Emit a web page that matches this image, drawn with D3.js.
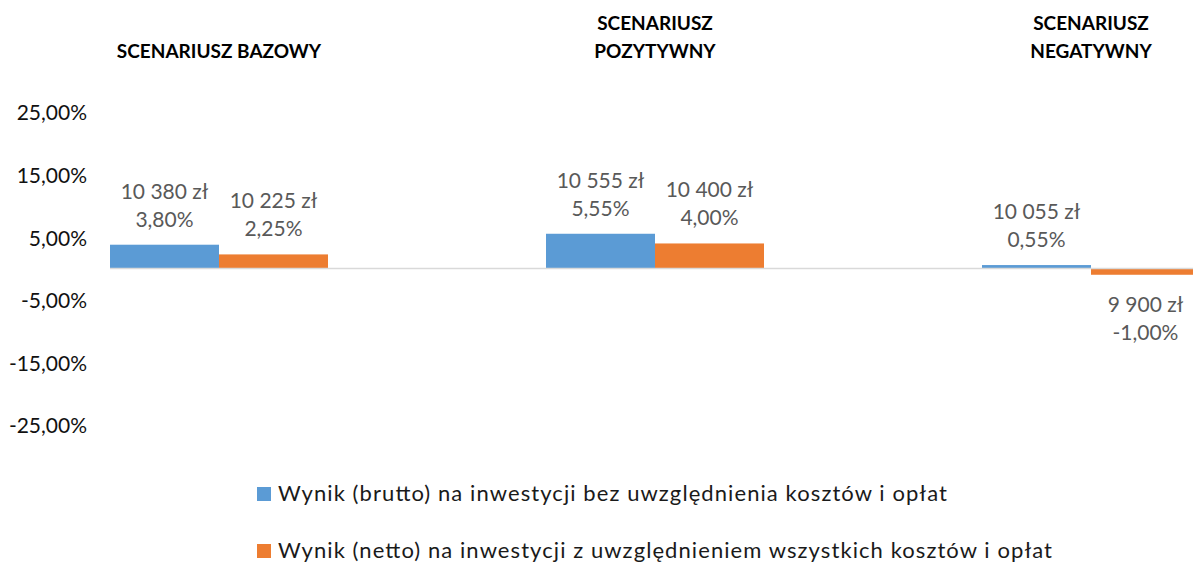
<!DOCTYPE html>
<html><head><meta charset="utf-8">
<script src="https://cdn.jsdelivr.net/npm/d3@7"></script>
<style>body{margin:0;background:#fff}svg{display:block}</style>
</head><body>
<svg id="c" width="1193" height="565"></svg>
<script>
const categories = ["SCENARIUSZ BAZOWY", "SCENARIUSZ POZYTYWNY", "SCENARIUSZ NEGATYWNY"];
const headerLines = [["SCENARIUSZ BAZOWY"], ["SCENARIUSZ", "POZYTYWNY"], ["SCENARIUSZ", "NEGATYWNY"]];
const seriesNames = ["Wynik (brutto) na inwestycji bez uwzględnienia kosztów i opłat",
                     "Wynik (netto) na inwestycji z uwzględnieniem wszystkich kosztów i opłat"];
const bruttoPct = [3.80, 5.55, 0.55];
const nettoPct = [2.25, 4.00, -1.00];
const bruttoAmount = ["10 380 zł", "10 555 zł", "10 055 zł"];
const nettoAmount = ["10 225 zł", "10 400 zł", "9 900 zł"];
const tickValues = [25, 15, 5, -5, -15, -25];
const colors = ["#5B9BD5", "#ED7D31"];

const fmt = v => v.toFixed(2).replace(".", ",") + "%";
const svg = d3.select("#c");
const font = "Lato, 'Open Sans', sans-serif";

const x0 = d3.scaleBand().domain(categories).range([1, 1309]).paddingInner(0).paddingOuter(0);
const x1 = d3.scaleBand().domain([0, 1]).range([x0.bandwidth() / 4, x0.bandwidth() * 3 / 4]);
const y = d3.scaleLinear().domain([-25, 25]).range([425, 112]);

// y axis labels
const yAxis = d3.axisLeft(y).tickValues(tickValues).tickFormat(fmt).tickSize(0).tickPadding(0);
const ya = svg.append("g").attr("transform", "translate(87,0)").call(yAxis);
ya.select(".domain").remove();
ya.selectAll("text").attr("font-family", font).attr("font-size", 21).attr("fill", "#111").attr("dy", "0.38em");

// bars
const data = [];
categories.forEach((c, i) => {
  data.push({c, s: 0, v: bruttoPct[i], amt: bruttoAmount[i]});
  data.push({c, s: 1, v: nettoPct[i], amt: nettoAmount[i]});
});
const g = svg.append("g");
g.selectAll("rect").data(data).join("rect")
  .attr("x", d => x0(d.c) + x1(d.s))
  .attr("width", x1.bandwidth())
  .attr("y", d => y(Math.max(0, d.v)))
  .attr("height", d => Math.abs(y(d.v) - y(0)))
  .attr("fill", d => colors[d.s]);

// zero line
svg.append("line").attr("x1", x0(categories[0]) + x1(0)).attr("x2", 1309)
  .attr("y1", y(0)).attr("y2", y(0)).attr("stroke", "#D9D9D9").attr("stroke-width", 1.5);

// data labels
const lab = svg.append("g").attr("font-family", font).attr("font-size", 21).attr("fill", "#595959").attr("text-anchor", "middle");
data.forEach(d => {
  const cx = x0(d.c) + x1(d.s) + x1.bandwidth() / 2;
  let b2, b1;
  if (d.v >= 0) { b2 = y(d.v) - 18; b1 = b2 - 28; }
  else { b1 = y(d.v) + 37; b2 = b1 + 28; }
  lab.append("text").attr("x", cx).attr("y", b1).text(d.amt);
  lab.append("text").attr("x", cx).attr("y", b2).text(fmt(d.v));
});

// headers
const hd = svg.append("g").attr("font-family", font).attr("font-weight", "bold").attr("font-size", 19).attr("fill", "#000").attr("text-anchor", "middle");
categories.forEach((c, i) => {
  const cx = x0(c) + x0.bandwidth() / 2;
  const lines = headerLines[i];
  lines.forEach((t, j) => {
    hd.append("text").attr("x", cx).attr("y", 58 - (lines.length - 1 - j) * 28).text(t);
  });
});

// legend
const legendWidths = [669, 774];
const lg = svg.append("g").attr("font-family", font).attr("font-size", 22).attr("fill", "#1a1a1a");
seriesNames.forEach((s, i) => {
  const yy = 501 + i * 57;
  lg.append("rect").attr("x", 257).attr("y", yy - 14).attr("width", 14).attr("height", 14).attr("fill", colors[i]);
  lg.append("text").attr("x", 278).attr("y", yy)
    .attr("textLength", legendWidths[i]).attr("lengthAdjust", "spacing").text(s);
});
</script>
</body></html>
